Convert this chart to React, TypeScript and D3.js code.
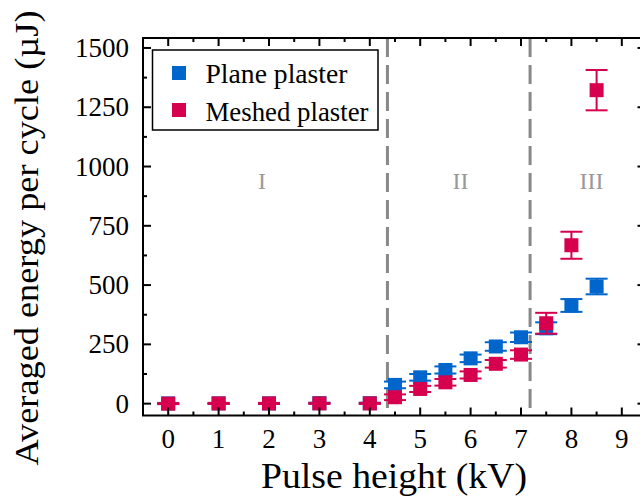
import React from "react";
import * as d3 from "d3";

const xValues = [0, 1, 2, 3, 4, 4.5, 5, 5.5, 6, 6.5, 7, 7.5, 8, 8.5];
const planeValues = [1, 1, 1, 2, 2, 79, 111, 142, 191, 241, 280, 318, 414, 494];
const planeErrors = [2, 2, 2, 2, 2, 14, 14, 15, 16, 18, 20, 25, 27, 33];
const meshedValues = [0, 1, 1, 1, 1, 27, 62, 90, 121, 168, 207, 339, 668, 1322];
const meshedErrors = [2, 2, 2, 2, 2, 12, 13, 14, 15, 16, 18, 44, 57, 85];
const seriesNames = ["Plane plaster", "Meshed plaster"];
const seriesColors = ["#0066cc", "#d6004e"];
const xTicks = [0, 1, 2, 3, 4, 5, 6, 7, 8, 9];
const yTicks = [0, 250, 500, 750, 1000, 1250, 1500];
const regionBounds = [4.35, 7.18];
const regionLabels = ["I", "II", "III"];
const regionLabelX = [1.86, 5.8, 8.4];

const FONT = "Liberation Serif";

export default function App() {
  const W = 640, H = 504;
  const left = 143, right = 645.5, top = 38, bottom = 415.5;
  const x = d3.scaleLinear().domain([-0.5, 9.47]).range([left, right]);
  const y = d3.scaleLinear().domain([-50, 1542]).range([bottom, top]);

  const xMinor = d3.range(-0.5, 9.5, 0.5).filter((v) => !xTicks.includes(v));
  const yMinor = d3.range(125, 1542, 250);

  const series = [
    { values: planeValues, errors: planeErrors, color: seriesColors[0] },
    { values: meshedValues, errors: meshedErrors, color: seriesColors[1] },
  ];

  const ms = 14;
  const capW = 22;

  return (
    <svg width={W} height={H} style={{ position: "absolute", left: 0, top: 0 }} fontFamily={FONT}>
      <rect width={W} height={H} fill="#fff" />
      {regionBounds.map((b, i) => (
        <line key={"rb" + i} x1={x(b)} x2={x(b)} y1={top} y2={bottom}
          stroke="#888" strokeWidth={3} strokeDasharray="19,8" />
      ))}
      {regionLabels.map((t, i) => (
        <text key={"rl" + i} x={x(regionLabelX[i])} y={189} textAnchor="middle"
          fontFamily={FONT} fontSize={24} fill="#999">{t}</text>
      ))}
      {series.map((s, si) => (
        <g key={"s" + si}>
          {xValues.map((xv, i) => {
            const cx = x(xv);
            const cy = y(s.values[i]);
            const yt = y(s.values[i] + s.errors[i]);
            const yb = y(s.values[i] - s.errors[i]);
            return (
              <g key={i}>
                <line x1={cx} x2={cx} y1={yt} y2={yb} stroke={s.color} strokeWidth={2} />
                <line x1={cx - capW / 2} x2={cx + capW / 2} y1={yt} y2={yt} stroke={s.color} strokeWidth={2} />
                <line x1={cx - capW / 2} x2={cx + capW / 2} y1={yb} y2={yb} stroke={s.color} strokeWidth={2} />
                <rect x={cx - ms / 2} y={cy - ms / 2} width={ms} height={ms} fill={s.color} />
              </g>
            );
          })}
        </g>
      ))}
      <rect x={left} y={top} width={right - left} height={bottom - top} fill="none" stroke="#000" strokeWidth={2} />
      {xTicks.map((t) => (
        <g key={"xt" + t}>
          <line x1={x(t)} x2={x(t)} y1={bottom} y2={bottom - 8} stroke="#000" strokeWidth={2} />
          <line x1={x(t)} x2={x(t)} y1={top} y2={top + 8} stroke="#000" strokeWidth={2} />
          <text x={x(t)} y={448} textAnchor="middle" fontFamily={FONT} fontSize={27}>{t}</text>
        </g>
      ))}
      {xMinor.map((t) => (
        <g key={"xm" + t}>
          <line x1={x(t)} x2={x(t)} y1={bottom} y2={bottom - 4} stroke="#000" strokeWidth={2} />
          <line x1={x(t)} x2={x(t)} y1={top} y2={top + 4} stroke="#000" strokeWidth={2} />
        </g>
      ))}
      {yTicks.map((t) => (
        <g key={"yt" + t}>
          <line x1={left} x2={left + 8} y1={y(t)} y2={y(t)} stroke="#000" strokeWidth={2} />
          <line x1={right} x2={right - 8} y1={y(t)} y2={y(t)} stroke="#000" strokeWidth={2} />
          <text x={129} y={y(t) + 9} textAnchor="end" fontFamily={FONT} fontSize={27}>{t}</text>
        </g>
      ))}
      {yMinor.map((t) => (
        <g key={"ym" + t}>
          <line x1={left} x2={left + 4} y1={y(t)} y2={y(t)} stroke="#000" strokeWidth={2} />
          <line x1={right} x2={right - 4} y1={y(t)} y2={y(t)} stroke="#000" strokeWidth={2} />
        </g>
      ))}
      <text x={394} y={488} textAnchor="middle" fontFamily={FONT} fontSize={35}
        textLength={266} lengthAdjust="spacingAndGlyphs">Pulse height (kV)</text>
      <text transform="translate(38,238) rotate(-90)" textAnchor="middle" fontFamily={FONT} fontSize={34}
        textLength={455} lengthAdjust="spacingAndGlyphs">Averaged energy per cycle (µJ)</text>
      <rect x={152.5} y={50} width={225.5} height={80} fill="#fff" stroke="#000" strokeWidth={1.5} />
      {seriesNames.map((n, i) => (
        <g key={"lg" + i}>
          <rect x={179 - 7} y={[73, 110][i] - 7} width={14} height={14} fill={seriesColors[i]} />
          <text x={205.5} y={[83.3, 120.7][i]} fontFamily={FONT} fontSize={27}
            textLength={[142, 163][i]} lengthAdjust="spacingAndGlyphs">{n}</text>
        </g>
      ))}
    </svg>
  );
}
